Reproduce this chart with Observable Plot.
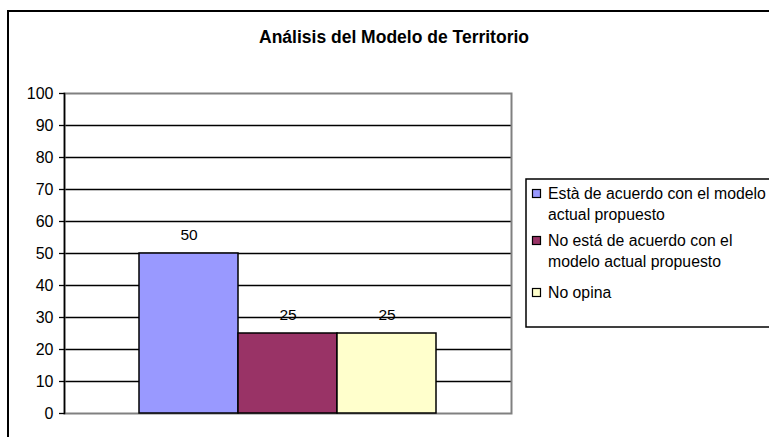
<!DOCTYPE html>
<html>
<head>
<meta charset="utf-8">
<script src="https://cdn.jsdelivr.net/npm/d3@7"></script>
<script src="https://cdn.jsdelivr.net/npm/@observablehq/plot@0.6"></script>
<style>
  html, body { margin: 0; padding: 0; background: #fff; }
</style>
</head>
<body>
<div id="chart"></div>
<script>
const title = "Análisis del Modelo de Territorio";
const categories = [
  "Està de acuerdo con el modelo actual propuesto",
  "No está de acuerdo con el modelo actual propuesto",
  "No opina"
];
const legendLines = [
  ["Està de acuerdo con el modelo", "actual propuesto"],
  ["No está de acuerdo con el", "modelo actual propuesto"],
  ["No opina"]
];
const values = [50, 25, 25];
const colors = ["#9999FF", "#993366", "#FFFFCC"];
const yTicks = [0, 10, 20, 30, 40, 50, 60, 70, 80, 90, 100];

const data = categories.map((c, i) => ({cat: c, value: values[i]}));
const font = "'Liberation Sans', Arial, Helvetica, sans-serif";

const chart = Plot.plot({
  width: 769,
  height: 437,
  marginLeft: 64,
  marginRight: 258,
  marginTop: 93,
  marginBottom: 24,
  style: {fontFamily: font, fontSize: "16px", background: "#fff", color: "#000"},
  x: {domain: categories, axis: null, paddingInner: 0, paddingOuter: 0.74},
  y: {domain: [0, 100], axis: null},
  color: {domain: categories, range: colors},
  marks: [
    Plot.ruleY(yTicks.filter(d => d > 0 && d < 100), {stroke: "#000", strokeWidth: 1.3}),
    Plot.frame({stroke: "#808080", strokeWidth: 2}),
    Plot.frame({anchor: "left", stroke: "#000", strokeWidth: 1.5}),
    Plot.barY(data, {x: "cat", y: "value", fill: "cat", stroke: "#000", strokeWidth: 1.5}),
    Plot.text(data, {x: "cat", y: "value", text: d => String(d.value), dy: -18, fontSize: 15.5, fill: "#000"}),
    Plot.axisY({ticks: yTicks, label: null, tickSize: 5, tickPadding: 6, tickFormat: d => String(d), stroke: "#000", strokeWidth: 1.3, fontSize: 16})
  ]
});

document.getElementById("chart").appendChild(chart);

const svg = d3.select(chart);
// outer chart frame
svg.append("rect")
  .attr("x", 8).attr("y", 11).attr("width", 800).attr("height", 460)
  .attr("fill", "none").attr("stroke", "#000").attr("stroke-width", 2);

// title
svg.append("text")
  .attr("x", 394).attr("y", 43)
  .attr("text-anchor", "middle")
  .attr("font-family", font).attr("font-size", 17.5).attr("font-weight", "bold")
  .attr("fill", "#000")
  .text(title);

// legend
const color = chart.scale("color");
const lg = svg.append("g").attr("font-family", font).attr("font-size", 15.8).attr("text-anchor", "start");
lg.append("rect")
  .attr("x", 526).attr("y", 179).attr("width", 300).attr("height", 148)
  .attr("fill", "#fff").attr("stroke", "#000").attr("stroke-width", 1.5);
const itemY = [199, 246, 298];
categories.forEach((c, i) => {
  lg.append("rect")
    .attr("x", 532.5).attr("y", itemY[i] - 9.5).attr("width", 8).attr("height", 8)
    .attr("fill", color.apply(c)).attr("stroke", "#000").attr("stroke-width", 1.2);
  legendLines[i].forEach((line, j) => {
    lg.append("text")
      .attr("x", 548).attr("y", itemY[i] + j * 21)
      .attr("text-anchor", "start")
      .attr("fill", "#000")
      .text(line);
  });
});
</script>
</body>
</html>
